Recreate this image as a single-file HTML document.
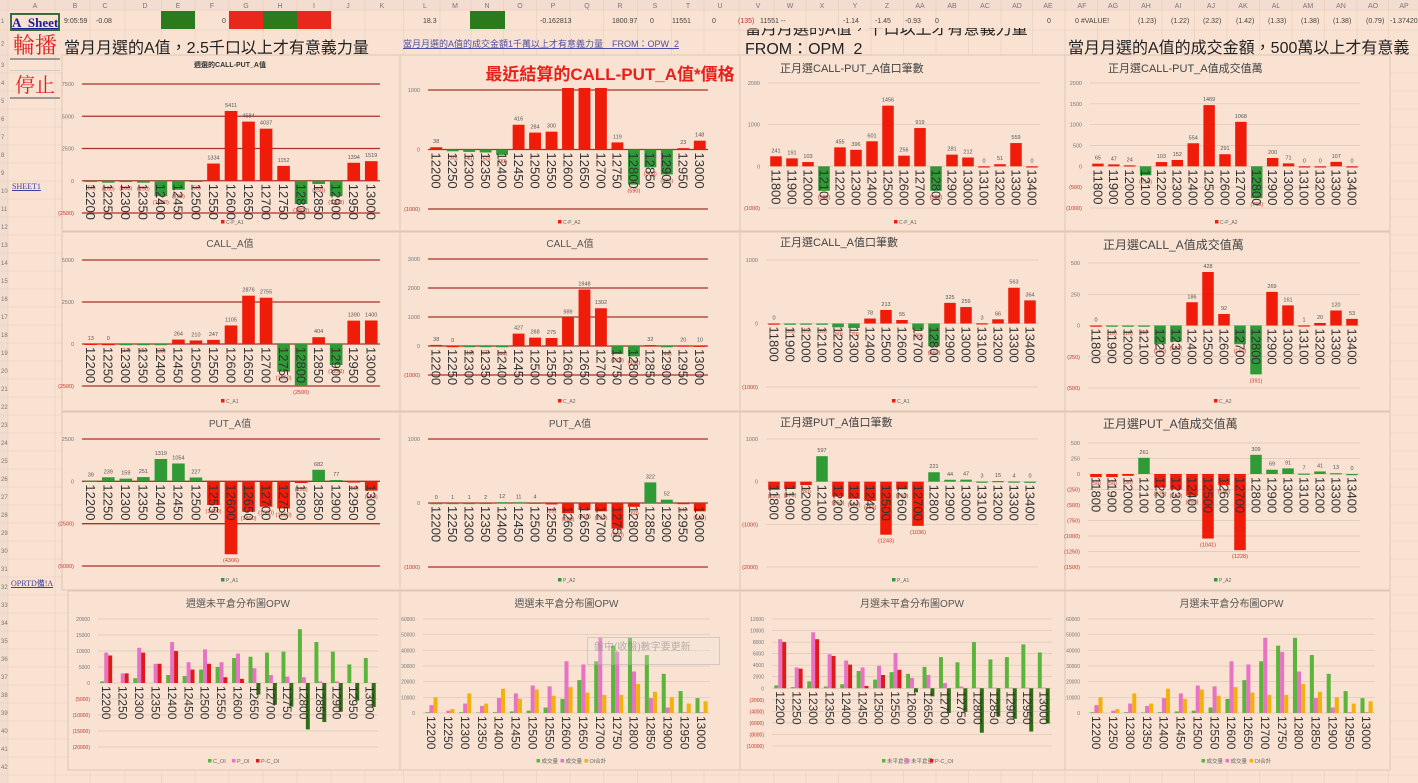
<!DOCTYPE html>
<html><head><meta charset="utf-8">
<style>
html,body{margin:0;padding:0;}
body{width:1418px;height:783px;overflow:hidden;background:#f9e2d2;position:relative;font-family:"Liberation Sans","Noto Sans CJK TC",sans-serif;}
.abs{position:absolute;white-space:nowrap;}
#grid,#charts{position:absolute;left:0;top:0;}
.colh{position:absolute;top:0;height:10px;font-size:7px;color:#777;text-align:center;line-height:10px;}
.r1{position:absolute;top:14px;font-size:7px;color:#444;}
.panel{position:absolute;background:#f9e2d2;border:1px solid #e3c9b8;box-sizing:border-box;}
</style></head>
<body>
<svg id="grid" width="1418" height="783"></svg>

<div class="abs" style="left:10px;top:13px;width:50px;height:18px;border:2px solid #3a6b3a;box-sizing:border-box;font:bold 13px 'Liberation Serif',serif;color:#1a1a9a;text-decoration:underline;text-align:center;line-height:15px;background:#f9e2d2">A_Sheet</div>
<div class="abs" style="left:10px;top:32px;width:50px;height:26px;font:22px 'Noto Serif CJK SC',serif;color:#e02020;text-align:center;line-height:26px;border-bottom:2px solid #999">輪播</div>
<div class="abs" style="left:10px;top:70px;width:50px;height:26px;font:20px 'Noto Serif CJK SC',serif;color:#e02020;text-align:center;line-height:26px;border-bottom:2px solid #999;border-top:1px solid #ccc">停止</div>
<div class="abs" style="left:12px;top:182px;font:8px 'Liberation Serif',serif;color:#4040a0;text-decoration:underline">SHEET1</div>
<div class="abs" style="left:11px;top:578px;font:8px 'Liberation Serif',serif;color:#4040a0;text-decoration:underline">OPRTD備!A</div>

<div class="abs" style="left:64px;top:34px;font-size:16px;color:#222">當月月選的A值，2.5千口以上才有意義力量</div>
<div class="abs" style="left:403px;top:37px;font-size:9px;color:#5050a0;text-decoration:underline">當月月選的A值的成交金額1千萬以上才有意義力量　FROM：OPW_2</div>
<div class="abs" style="left:745px;top:20px;font-size:16px;color:#222;line-height:20px;height:35px;overflow:hidden;clip-path:inset(8px 0 0 0)">當月月選的A值，千口以上才有意義力量<br>FROM：OPM_2</div>
<div class="abs" style="left:1068px;top:34px;font-size:16px;color:#222">當月月選的A值的成交金額，500萬以上才有意義</div>

<svg id="charts" width="1418" height="783"></svg>

<div class="abs" style="left:587px;top:637px;width:133px;height:28px;border:1px solid rgba(150,150,150,0.35);background:rgba(240,235,230,0.25);font-size:10px;color:rgba(120,120,120,0.5);line-height:20px;padding-left:6px;box-sizing:border-box">盤中(收盤)數字要更新</div>

<script>
// ---------- data ----------
const strikesA = [12200,12250,12300,12350,12400,12450,12500,12550,12600,12650,12700,12750,12800,12850,12900,12950,13000];
const strikesB = [11800,11900,12000,12100,12200,12300,12400,12500,12600,12700,12800,12900,13000,13100,13200,13300,13400];

const c1Vals = [-50,-150,-100,-150,-1200,-700,-50,1334,5411,4584,4037,1152,-1800,-250,-1200,1394,1519];
const c1Ticks = [7500,5000,2500,0,-2500];
const c2Vals = [38,-30,-40,-50,-90,416,284,300,2500,2500,2500,119,-590,-300,-420,23,148];
const c2Ticks = [1000,0,-1000];
const c3Vals = [241,191,103,-588,455,396,601,1456,256,919,-588,281,212,0,51,559,0];
const c3Ticks = [2000,1000,0,-1000];
const c4Vals = [65,47,24,-215,103,152,554,1469,291,1068,-765,200,71,0,0,107,0];
const c4Ticks = [2000,1500,1000,500,0,-500,-1000];

const c5Vals = [13,0,-14,-5,-25,264,210,247,1105,2876,2755,-1650,-2500,404,-1250,1390,1400];
const c5Ticks = [5000,2500,0,-2500];
const c6Vals = [38,0,-18,-2,-44,427,288,275,989,1948,1302,-278,-358,32,-44,20,10];
const c6Ticks = [3000,2000,1000,0,-1000];
const c7Vals = [0,-20,-15,-20,-60,-70,78,213,55,-95,-360,325,259,3,66,563,364];
const c7Ticks = [1000,0,-1000];
const c8Vals = [0,-10,-10,-5,-150,-130,186,428,92,-150,-391,269,161,1,20,120,53];
const c8Ticks = [500,250,0,-250,-500];

const c9Vals = [39,239,159,251,1319,1054,227,-1400,-4306,-1800,-1500,-1600,-100,682,77,-50,-550];
const c9Ticks = [2500,0,-2500,-5000];
const c10Vals = [0,1,1,2,12,11,4,-23,-160,-110,-130,-400,-60,322,52,-4,-130];
const c10Ticks = [1000,0,-1000];
const c11Vals = [-190,-170,-80,597,-350,-400,-450,-1243,-180,-1036,221,44,47,3,15,4,0];
const c11Ticks = [1000,0,-1000,-2000];
const c12Vals = [-50,-50,-30,261,-220,-250,-350,-1041,-180,-1228,309,69,91,7,41,13,0];
const c12Ticks = [500,250,0,-250,-500,-750,-1000,-1250,-1500];

const c13Call = [500,0,1500,0,2500,2200,4200,5000,7800,8200,9500,9800,16800,12800,9800,5800,7800];
const c13Put = [9500,3000,11000,6000,12800,6500,10500,6500,9200,4600,2500,2000,1800,500,500,0,0];
const c13Diff = [8600,3000,9500,6000,10000,4200,6000,1800,1300,-3600,-6800,-7400,-14500,-12200,-9000,-5500,-7500];
const c13Ticks = [20000,15000,10000,5000,0,-5000,-10000,-15000,-20000];

const c14Vol1 = [500,0,500,300,500,1000,1500,3500,9000,21000,33000,43000,48000,37000,25000,14000,9500];
const c14Vol2 = [5000,1500,6000,4500,9500,12500,17500,17000,33000,31000,48000,39000,26500,9500,3500,500,500];
const c14OiSum = [10000,2500,12500,6000,15500,9000,15000,11000,16500,13000,11500,11500,18500,13500,10000,6000,7500];
const c14Ticks = [60000,50000,40000,30000,20000,10000,0];

const c15Call = [500,200,1200,300,700,3000,1500,2800,2500,3700,5400,4500,8000,5000,5400,7600,6200];
const c15Put = [8500,3600,9700,5900,4800,3600,3900,6100,1800,2300,900,300,100,100,100,100,100];
const c15Diff = [8000,3400,8500,5600,4100,400,2300,3200,-700,-1400,-4300,-4100,-7700,-4900,-5300,-7500,-6100];
const c15Ticks = [12000,10000,8000,6000,4000,2000,0,-2000,-4000,-6000,-8000,-10000];

const c16Vol1 = [500,0,500,300,500,1000,1500,3500,9000,21000,33000,43000,48000,37000,25000,14000,9500];
const c16Vol2 = [5000,1500,6000,4500,9500,12500,17500,17000,33000,31000,48000,39000,26500,9500,3500,500,500];
const c16OiSum = [10000,2500,12500,6000,15500,9000,15000,11000,16500,13000,11500,11500,18500,13500,10000,6000,7500];

// ---------- helpers ----------
const NS = 'http://www.w3.org/2000/svg';
const svg = document.getElementById('charts');
const gsvg = document.getElementById('grid');
function mk(tag, attrs, parent){ const e=document.createElementNS(NS,tag); for(const k in attrs) e.setAttribute(k, attrs[k]); (parent||svg).appendChild(e); return e; }
function txt(s, attrs, parent){ const e=mk('text', attrs, parent); e.textContent=s; return e; }
function fmt(v){ return v<0 ? '('+Math.abs(v)+')' : String(v); }
function yScale(ticks, yTop, yBot){ const hi=ticks[0], lo=ticks[ticks.length-1]; return v => yTop + (hi - v)/(hi-lo)*(yBot-yTop); }

const RED='#f01c0a', GREEN='#2f9a36', DGREEN='#2f6e12', LGREEN='#5bb53a', PINK='#e772c6', ORANGE='#f2b10c';

// ---------- sheet grid ----------
const colCenters=[35,75,105,145,178,212,246,280,314,348,382,425,455,487,520,553,587,620,655,688,720,758,790,822,855,887,920,952,985,1017,1048,1082,1113,1146,1178,1211,1243,1276,1308,1341,1373,1404];
const colNames=['A','B','C','D','E','F','G','H','I','J','K','L','M','N','O','P','Q','R','S','T','U','V','W','X','Y','Z','AA','AB','AC','AD','AE','AF','AG','AH','AI','AJ','AK','AL','AM','AN','AO','AP'];
mk('rect',{x:0,y:0,width:1418,height:10,fill:'#f3ddd0'},gsvg);
mk('rect',{x:0,y:0,width:8,height:783,fill:'#f3ddd0'},gsvg);
for(let i=0;i<colCenters.length;i++){
  const b = i===0?8:(colCenters[i-1]+colCenters[i])/2;
  mk('line',{x1:b,y1:0,x2:b,y2:783,stroke:'#e6cdbd','stroke-width':0.6},gsvg);
  const t=txt(colNames[i],{x:colCenters[i],y:8,'font-size':7,fill:'#777','text-anchor':'middle'},gsvg);
  
  
}
const rowYs=[10,30,55];
for(let y=73;y<783;y+=18) rowYs.push(y);
rowYs.forEach((y,i)=>{
  mk('line',{x1:0,y1:y,x2:1418,y2:y,stroke:'#e6cdbd','stroke-width':0.6},gsvg);
  if(i<rowYs.length-1){ const t=txt(String(i+1),{x:1,y:(y+(rowYs[i+1]||y+18))/2+3,'font-size':6,fill:'#777'},gsvg);
    
     }
});
// row 1 cells
const cellFills=[[161,195,'#2b7a1e'],[229,263,'#e8281c'],[263,297,'#2b7a1e'],[297,331,'#e8281c'],[470,505,'#2b7a1e']];
cellFills.forEach(c=>{ const r=mk('rect',{x:c[0],y:11,width:c[1]-c[0],height:18,fill:c[2]},gsvg);
  
   });
const row1=[[64,'9:05:59','#444'],[96,'-0.08','#444'],[222,'0','#444'],[423,'18.3','#444'],[540,'-0.162813','#444'],[612,'1800.97','#444'],[650,'0','#444'],[672,'11551','#444'],[712,'0','#444'],[738,'(135)','#c03030'],[760,'11551 --','#444'],[843,'-1.14','#444'],[875,'-1.45','#444'],[905,'-0.93','#444'],[935,'0','#444'],[1047,'0','#444'],[1075,'0 #VALUE!','#444'],[1138,'(1.23)','#444'],[1171,'(1.22)','#444'],[1203,'(2.32)','#444'],[1236,'(1.42)','#444'],[1268,'(1.33)','#444'],[1301,'(1.38)','#444'],[1333,'(1.38)','#444'],[1366,'(0.79)','#444'],[1390,'-1.37420','#444']];
row1.forEach(c=>{ const t=txt(c[1],{x:c[0],y:23,'font-size':7,fill:c[2]},gsvg);
  
   });

// ---------- panels ----------
function panel(name,x0,y0,x1,y1){
  const r=mk('rect',{x:x0,y:y0,width:x1-x0,height:y1-y0,fill:'#f9e2d2',stroke:'#e0c6b4','stroke-width':1});
  
  
}
const pcols=[[62,400],[400,740],[740,1065],[1065,1390]];
const prows=[[55,231],[232,411],[412,590]];
prows.forEach((r,ri)=>pcols.forEach((c,ci)=>panel('chart-panel-'+(ri*4+ci+1),c[0],r[0],c[1],r[1])));
[[68,400],[400,740],[740,1065],[1065,1390]].forEach((c,ci)=>panel('chart-panel-'+(13+ci),c[0],591,c[1],770));

// ---------- chart drawing ----------
function axes(g, ticks, ys, x0, x1, gridColor, fs){
  ticks.forEach(t=>{
    const y=ys(t);
    const l=mk('line',{x1:x0,y1:y,x2:x1,y2:y,stroke:gridColor,'stroke-width':gridColor==='#a8322a'?1.3:0.7},g);
    
    
    const tl=txt(fmt(t),{x:x0-8,y:y+2,'font-size':fs,fill:t<0?'#c0392b':'#777','text-anchor':'end'},g);
    
    
  });
}
function catLabels(g, cats, x0, step, y0, fs){
  cats.forEach((c,i)=>{
    const cx=x0+(i+0.5)*step;
    const t=txt(String(c),{transform:`translate(${cx-fs*0.36},${y0+3}) rotate(90)`,'font-size':fs,fill:'#333'},g);
    
    
  });
}
function drawSingle(name, cats, vals, ticks, yTop, yBot, x0, x1, posC, negC, gridC, title, tx, ty, tAnchor, tStyle, legend, legendC, legendY){
  const g=mk('g',{});
  
  
  const ys=yScale(ticks,yTop,yBot);
  axes(g,ticks,ys,x0,x1,gridC,5.5);
  const step=(x1-x0)/cats.length, w=step*0.72, y0=ys(0);
  vals.forEach((v,i)=>{
    const cx=x0+(i+0.5)*step;
    let y=ys(v); let clipped=false;
    if(y<yTop-2){y=yTop-2;clipped=true;}
    const r=mk('rect',{x:cx-w/2,y:Math.min(y,y0),width:w,height:Math.max(Math.abs(y0-y),1.2),fill:v>=0?posC:negC},g);
    
    
    if(!clipped){
      const lt=txt(fmt(v),{x:cx,y:v>=0?y-4:y+8,'font-size':5.5,fill:v>=0?'#555':'#c0392b','text-anchor':'middle'},g);
      
      
    }
  });
  catLabels(g,cats,x0,step,y0,13);
  const t=txt(title,Object.assign({x:tx,y:ty,'text-anchor':tAnchor},tStyle),g);
  
  
  const lx=(x0+x1)/2;
  const lr=mk('rect',{x:lx-10,y:legendY-4,width:3.5,height:3.5,fill:legendC},g);
  
  
  const lt=txt(legend,{x:lx-5,y:legendY,'font-size':5,fill:'#666'},g);
  
  
}
function drawGroup(name, cats, series, posColors, negColors, names, ticks, yTop, yBot, x0, x1, title, legendY){
  const g=mk('g',{});
  
  
  const ys=yScale(ticks,yTop,yBot);
  axes(g,ticks,ys,x0,x1,'#dcc6b8',5);
  const step=(x1-x0)/cats.length, w=step*0.24, y0=ys(0);
  series.forEach((vals,si)=>{
    vals.forEach((v,i)=>{
      const cx=x0+(i+0.5)*step+(si-1)*w;
      const y=ys(v);
      const r=mk('rect',{x:cx-w/2,y:Math.min(y,y0),width:w,height:Math.abs(y0-y),fill:v>=0?posColors[si]:negColors[si]},g);
      
      
    });
  });
  catLabels(g,cats,x0,step,y0,12);
  const t=txt(title,{x:(x0+x1)/2,y:607,'font-size':10,fill:'#555','text-anchor':'middle'},g);
  
  
  let lx=(x0+x1)/2-30;
  names.forEach((n,si)=>{
    const lr=mk('rect',{x:lx,y:legendY-4,width:3.5,height:3.5,fill:posColors[si]},g);
    
    
    const lt=txt(n,{x:lx+5,y:legendY,'font-size':5.5,fill:'#666'},g);
    
    
    lx+=24;
  });
}

const GRID_RED='#a8322a', GRID_GRAY='#dcc6b8';
const small={'font-size':7,fill:'#333','font-weight':'bold'};
const mid={'font-size':10,fill:'#555'};
const big={'font-size':11,fill:'#444'};

drawSingle('chart-cp-a1',strikesA,c1Vals,c1Ticks,84,213,82,380,RED,GREEN,GRID_RED,'週選的CALL-PUT_A值',230,67,'middle',small,'C-P_A1',RED,224);
drawSingle('chart-cp-a2',strikesA,c2Vals,c2Ticks,90,209,428,708,RED,GREEN,GRID_RED,'最近結算的CALL-PUT_A值*價格',610,80,'middle',{'font-size':17,fill:'#e8201a','font-weight':'bold'},'C-P_A2',RED,224);
drawSingle('chart-cp-a1-count',strikesB,c3Vals,c3Ticks,83,208,768,1040,RED,GREEN,GRID_GRAY,'正月選CALL-PUT_A值口筆數',780,72,'start',big,'C-P_A1',RED,224);
drawSingle('chart-cp-a2-amount',strikesB,c4Vals,c4Ticks,83,208,1090,1360,RED,GREEN,GRID_GRAY,'正月選CALL-PUT_A值成交值萬',1108,72,'start',big,'C-P_A2',RED,224);

drawSingle('chart-call-a1',strikesA,c5Vals,c5Ticks,260,386,82,380,RED,GREEN,GRID_RED,'CALL_A值',230,247,'middle',mid,'C_A1',RED,403);
drawSingle('chart-call-a2',strikesA,c6Vals,c6Ticks,259,375,428,708,RED,GREEN,GRID_RED,'CALL_A值',570,247,'middle',mid,'C_A2',RED,403);
drawSingle('chart-call-a1-count',strikesB,c7Vals,c7Ticks,260,387,766,1038,RED,GREEN,GRID_GRAY,'正月選CALL_A值口筆數',780,246,'start',big,'C_A1',RED,403);
drawSingle('chart-call-a2-amount',strikesB,c8Vals,c8Ticks,263,388,1088,1360,RED,GREEN,GRID_GRAY,'正月選CALL_A值成交值萬',1103,249,'start',{'font-size':12,fill:'#444'},'C_A2',RED,403);

drawSingle('chart-put-a1',strikesA,c9Vals,c9Ticks,439,566,82,380,GREEN,RED,GRID_RED,'PUT_A值',230,427,'middle',mid,'P_A1',GREEN,582);
drawSingle('chart-put-a2',strikesA,c10Vals,c10Ticks,439,567,428,708,GREEN,RED,GRID_RED,'PUT_A值',570,427,'middle',mid,'P_A2',GREEN,582);
drawSingle('chart-put-a1-count',strikesB,c11Vals,c11Ticks,439,567,766,1038,GREEN,RED,GRID_GRAY,'正月選PUT_A值口筆數',780,426,'start',big,'P_A1',GREEN,582);
drawSingle('chart-put-a2-amount',strikesB,c12Vals,c12Ticks,443,567,1088,1360,GREEN,RED,GRID_GRAY,'正月選PUT_A值成交值萬',1103,428,'start',{'font-size':12,fill:'#444'},'P_A2',GREEN,582);

drawGroup('chart-weekly-oi',strikesA,[c13Call,c13Put,c13Diff],[LGREEN,PINK,'#e0191b'],[LGREEN,PINK,DGREEN],['C_OI','P_OI','P-C_OI'],c13Ticks,619,747,98,378,'週選未平倉分布圖OPW',763);
drawGroup('chart-weekly-volume',strikesA,[c14Vol1,c14Vol2,c14OiSum],[LGREEN,PINK,ORANGE],[LGREEN,PINK,ORANGE],['成交量','成交量','OI合計'],c14Ticks,619,713,423,710,'週選未平倉分布圖OPW',763);
drawGroup('chart-monthly-oi',strikesA,[c15Call,c15Put,c15Diff],[LGREEN,PINK,'#e0191b'],[LGREEN,PINK,DGREEN],['未平倉量','未平倉量','P-C_OI'],c15Ticks,619,746,772,1052,'月選未平倉分布圖OPW',763);
drawGroup('chart-monthly-volume',strikesA,[c16Vol1,c16Vol2,c16OiSum],[LGREEN,PINK,ORANGE],[LGREEN,PINK,ORANGE],['成交量','成交量','OI合計'],c14Ticks,619,713,1088,1375,'月選未平倉分布圖OPW',763);
</script>
</body></html>
